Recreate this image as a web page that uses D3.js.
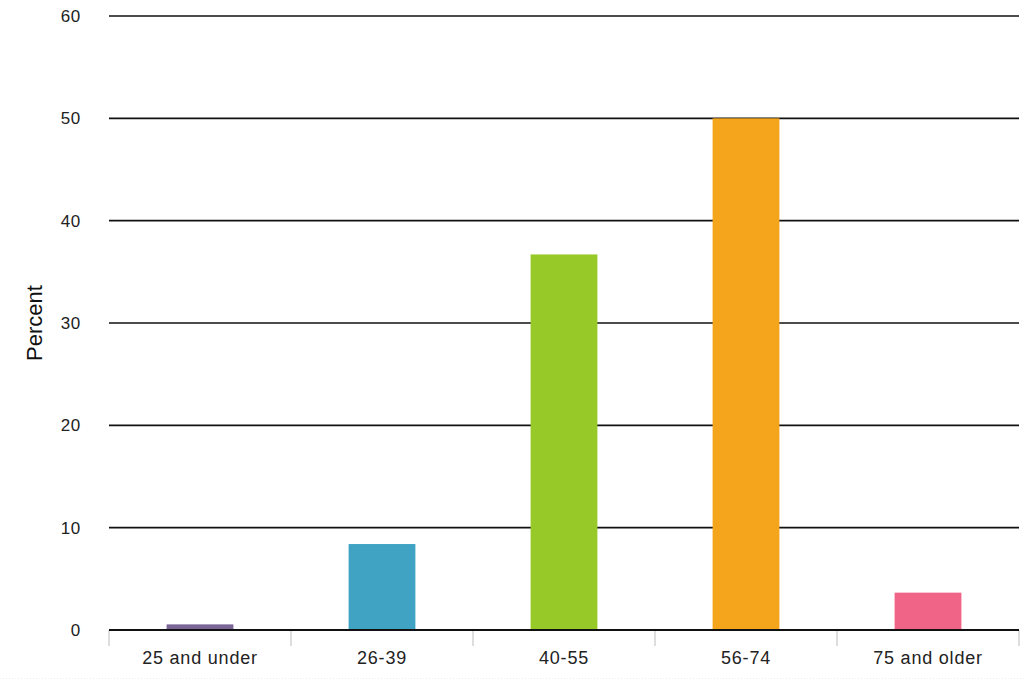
<!DOCTYPE html>
<html><head><meta charset="utf-8">
<script src="https://cdn.jsdelivr.net/npm/d3@7"></script>
<style>body{margin:0;background:#fff;} svg{display:block;}</style>
</head><body>
<svg id="c" width="1024" height="684"></svg>
<script>
const categories = ["25 and under","26-39","40-55","56-74","75 and older"];
const values = [0.55, 8.4, 36.7, 50.0, 3.65];
const colors = ["#7b6595","#41a3c3","#97c928","#f5a51c","#f06488"];
const yTicks = [0,10,20,30,40,50,60];

const svg = d3.select("#c");
const m = {l:109, r:1019, t:16, b:630};
const x = d3.scaleBand().domain(categories).range([m.l, m.r]).padding(0);
const y = d3.scaleLinear().domain([0,60]).range([m.b, m.t]);
const font = "Liberation Sans, Arial, sans-serif";

// gridlines
svg.append("g").selectAll("line").data(yTicks.filter(d=>d>0)).join("line")
  .attr("x1", m.l).attr("x2", m.r).attr("y1", d=>y(d)).attr("y2", d=>y(d))
  .attr("stroke", "#111").attr("stroke-width", 1.6);

// y labels
svg.append("g").selectAll("text").data(yTicks).join("text")
  .attr("x", 81).attr("y", d=>y(d)).attr("dy","0.36em")
  .attr("text-anchor","end").attr("font-family",font).attr("font-size",17)
  .attr("fill","#222").attr("letter-spacing","0.7px").text(d=>d);

// bars
const bwFrac = 0.367;
svg.append("g").selectAll("rect").data(categories).join("rect")
  .attr("x", (c)=>x(c) + x.bandwidth()*(1-bwFrac)/2)
  .attr("width", x.bandwidth()*bwFrac)
  .attr("y", (c,i)=>y(values[i]))
  .attr("height", (c,i)=>y(0)-y(values[i]))
  .attr("fill", (c,i)=>colors[i]);

// category tick marks
const bounds = categories.map(c=>x(c)).concat([m.r]);
svg.append("g").selectAll("line").data(bounds).join("line")
  .attr("x1", d=>d).attr("x2", d=>d).attr("y1", y(0)).attr("y2", y(0)+16)
  .attr("stroke","#c8c8c8").attr("stroke-width",1.2);

// x axis line
svg.append("line").attr("x1", m.l).attr("x2", m.r).attr("y1", y(0)).attr("y2", y(0))
  .attr("stroke","#111").attr("stroke-width",2);

// x labels
svg.append("g").selectAll("text").data(categories).join("text")
  .attr("x", c=>x(c)+x.bandwidth()/2).attr("y", 664)
  .attr("text-anchor","middle").attr("font-family",font).attr("font-size",18)
  .attr("fill","#222").attr("letter-spacing","0.8px").text(c=>c);

// y title
svg.append("text").attr("transform","translate(42,323) rotate(-90)")
  .attr("text-anchor","middle").attr("font-family",font).attr("font-size",22)
  .attr("fill","#111").text("Percent");

// faint bottom line
svg.append("line").attr("x1",0).attr("x2",1024).attr("y1",678.5).attr("y2",678.5)
  .attr("stroke","#eee").attr("stroke-dasharray","1,2");
</script>
</body></html>
